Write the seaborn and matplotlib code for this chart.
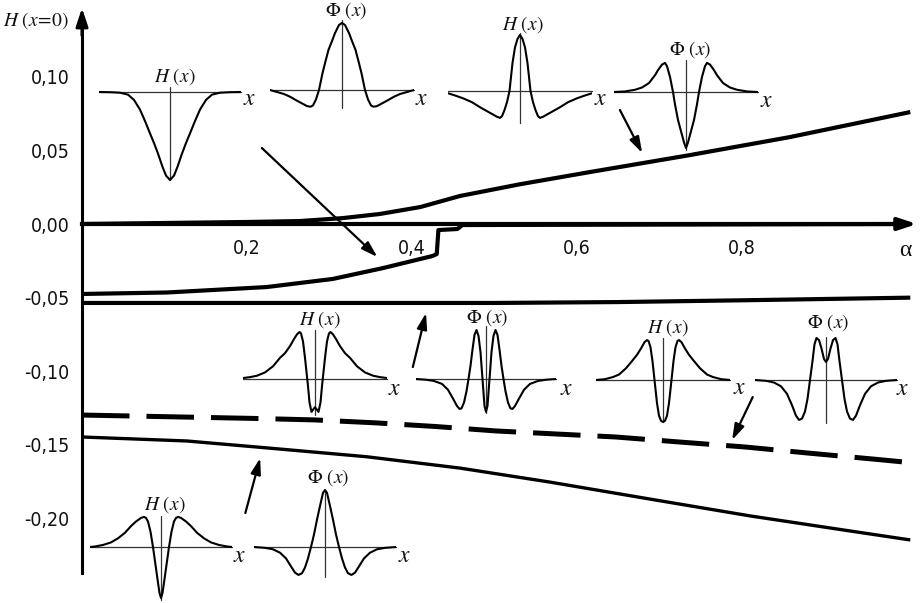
import matplotlib
matplotlib.use("Agg")
import numpy as np
import pandas as pd
import matplotlib.pyplot as plt
import seaborn as sns
from matplotlib.ticker import MultipleLocator, FixedLocator, FuncFormatter

# ---------------- main curves: H(x=0) versus alpha ----------------
alpha_A = [0.0, 0.204, 0.264, 0.316, 0.361, 0.410, 0.458, 0.531, 0.616, 0.737, 0.858, 1.004]
H_A = [0.0, 0.0014, 0.002, 0.004, 0.0068, 0.0115, 0.019, 0.027, 0.0353, 0.0468, 0.059, 0.076]

alpha_B = [0.0, 0.103, 0.224, 0.304, 0.365, 0.425, 0.430, 0.432, 0.455, 0.461, 1.004]
H_B = [-0.0475, -0.0465, -0.0428, -0.0373, -0.0299, -0.0217, -0.0204, -0.0041, -0.0034, -0.0007, 0.0]

alpha_C = [0.0, 0.50, 0.65, 0.80, 1.004]
H_C = [-0.0536, -0.0536, -0.0530, -0.0518, -0.0500]

alpha_D = [0.0, 0.21, 0.282, 0.356, 0.429, 0.502, 0.647, 0.724, 0.804, 0.880, 0.967, 1.004]
H_D = [-0.1297, -0.132, -0.133, -0.135, -0.1375, -0.1405, -0.1446, -0.148, -0.1514, -0.1555, -0.160, -0.162]

alpha_E = [0.0, 0.127, 0.224, 0.345, 0.458, 0.567, 0.688, 0.810, 0.931, 1.004]
H_E = [-0.1446, -0.1473, -0.152, -0.158, -0.1657, -0.1752, -0.1867, -0.1982, -0.2084, -0.2145]

x_ticks = [0.2, 0.4, 0.6, 0.8]
y_ticks = [0.10, 0.05, 0.00, -0.05, -0.10, -0.15, -0.20]

# arrows (start, end) in (alpha, H) coordinates
arrows = [((0.218, 0.0516), (0.358, -0.0224)),
          ((0.652, 0.0774), (0.679, 0.0482)),
          ((0.401, -0.0971), (0.417, -0.0604)),
          ((0.813, -0.1175), (0.788, -0.1467)),
          ((0.198, -0.1962), (0.216, -0.1589))]

# ---------------- inset profiles (half profiles, symmetric in x) ----------------
prof_u = [
    [0, 4, 7.5, 12, 16, 20, 25, 30, 36, 42, 50, 60, 71],
    [0, 3, 7, 10, 13.5, 17, 19.5, 23, 26, 29, 31.5, 35, 40, 45, 52, 58, 65, 72],
    [0, 2.5, 5, 7.5, 10.5, 13, 15.5, 18, 20, 23, 28, 34, 40, 48, 57, 65, 72],
    [0, 2, 5, 8, 11, 13, 16, 19, 21, 24, 28, 31, 37, 44, 51, 61, 72],
    [0, 1.5, 3.5, 5.5, 7, 8.5, 10, 12, 14, 15.5, 18, 21, 25, 30, 35, 42, 50, 58, 65, 72],
    [0, 1.5, 3.5, 5.5, 7.5, 9.5, 11.5, 13.5, 15.5, 17.5, 19.5, 22, 24.5, 26.5, 29, 33, 38, 44, 52, 60, 70],
    [0, 2, 4, 6, 8.5, 10.5, 12.5, 14.5, 16, 18.5, 22, 26, 31, 37, 44, 50, 58, 67],
    [0, 2, 4.5, 7, 9.5, 11.5, 13.5, 16, 18.5, 21, 24, 27, 30, 34, 39, 45, 52, 60, 71],
    [0, 1.5, 3, 5, 8, 10.5, 13, 15, 17, 20, 25, 30, 36, 43, 50, 58, 66, 71],
    [0, 2, 5, 8, 11, 14, 17, 20, 23, 26.5, 30, 34, 39, 45, 52, 60, 71],
]
prof_v = [
    [-1, -0.95, -0.85, -0.70, -0.58, -0.47, -0.33, -0.2, -0.09, -0.03, -0.008, -0.002, 0],
    [1, 0.97, 0.85, 0.73, 0.6, 0.4, 0.25, 0, -0.14, -0.23, -0.25, -0.24, -0.2, -0.16, -0.1, -0.06, -0.03, 0],
    [1, 0.93, 0.78, 0.5, 0, -0.2, -0.34, -0.45, -0.48, -0.46, -0.41, -0.35, -0.29, -0.2, -0.13, -0.08, -0.04],
    [-1, -0.9, -0.7, -0.5, -0.22, 0, 0.27, 0.46, 0.52, 0.49, 0.39, 0.3, 0.16, 0.08, 0.04, 0.01, 0],
    [-0.6, -0.64, -0.7, -0.5, -0.15, 0.15, 0.45, 0.8, 0.97, 1, 0.95, 0.85, 0.7, 0.55, 0.45, 0.27, 0.14, 0.07, 0.04, 0.02],
    [-0.67, -0.55, 0, 0.55, 0.88, 1, 0.9, 0.6, 0.27, 0, -0.25, -0.48, -0.6, -0.61, -0.55, -0.4, -0.22, -0.1, -0.04, -0.015, 0],
    [-1, -0.97, -0.85, -0.55, 0, 0.45, 0.78, 0.93, 0.95, 0.9, 0.75, 0.6, 0.45, 0.28, 0.13, 0.07, 0.02, 0],
    [0.43, 0.5, 0.75, 0.95, 1, 0.85, 0.45, 0, -0.45, -0.75, -0.92, -0.95, -0.85, -0.6, -0.33, -0.15, -0.06, -0.02, 0],
    [-1, -0.9, -0.7, -0.42, 0, 0.3, 0.5, 0.57, 0.59, 0.57, 0.5, 0.41, 0.28, 0.17, 0.09, 0.04, 0.01, 0],
    [1, 0.95, 0.72, 0.48, 0.22, 0, -0.2, -0.36, -0.46, -0.49, -0.45, -0.34, -0.2, -0.1, -0.04, -0.015, 0],
]
prof_names = ["H", "Phi", "H", "Phi", "H", "Phi", "H", "Phi", "H", "Phi"]

# inset layout in pixels: centre x, baseline y, half width, amplitude, vline top, vline bottom
inset_box = [(170, 92, 71, 88, 87, 180), (342, 90, 72, 67, 20, 108),
             (520, 91, 72, 56, 33, 123), (686, 92, 72, 56, 60, 150),
             (315, 379, 72, 47, 330, 415), (486, 379, 70, 49, 326, 413),
             (663, 380, 67, 42, 338, 422), (826, 380, 71, 42, 337, 423),
             (161, 547, 71, 51, 516, 600), (325, 547, 71, 57, 490, 577)]
title_pos = [(175, 77), (346, 11), (523, 25), (690, 50), (320, 320),
             (487, 318), (668, 328), (828, 323), (165, 505), (328, 478)]
xlab_pos = [(250, 98), (422, 98), (601, 98), (767, 100), (395, 388),
            (567, 388), (740, 387), (903, 388), (240, 555), (405, 555)]

# ---------------- figure ----------------
sns.set_theme(style="white")
plt.rcParams["font.family"] = ["DejaVu Sans"]
plt.rcParams["mathtext.fontset"] = "stix"

W, Hpx = 923, 603
fig = plt.figure(figsize=(W / 100, Hpx / 100), dpi=100)
ax = fig.add_axes([0, 0, 1, 1])
ax.set_facecolor("white")
ax.set_xlim((0 - 82) / 825, (W - 82) / 825)
ax.set_ylim((224 - Hpx) / 1473, 224 / 1473)

for k in ["top", "right"]:
    ax.spines[k].set_visible(False)
ax.spines["left"].set_position(("data", 0))
ax.spines["bottom"].set_position(("data", 0))
ax.spines["left"].set_bounds(-0.237, 0.14)
ax.spines["bottom"].set_bounds(0, 1.0)
ax.spines["left"].set_linewidth(2.2)
ax.spines["bottom"].set_linewidth(3.0)
ax.spines["left"].set_color("black")
ax.spines["bottom"].set_color("black")

ax.xaxis.set_major_locator(FixedLocator(x_ticks))
ax.xaxis.set_minor_locator(MultipleLocator(0.05))
ax.yaxis.set_major_locator(FixedLocator(y_ticks))
ax.yaxis.set_minor_locator(MultipleLocator(0.01))
ax.xaxis.set_major_formatter(FuncFormatter(lambda v, p: f"{v:.1f}".replace(".", ",")))
ax.yaxis.set_major_formatter(FuncFormatter(lambda v, p: f"{v:.2f}".replace(".", ",").replace("-0,00", "0,00")))
ax.tick_params(axis="both", which="both", direction="in", color="#888888", width=0.8,
               labelsize=14, labelcolor="#111111")
ax.tick_params(axis="x", which="major", length=4, pad=11)
ax.tick_params(axis="x", which="minor", length=3)
ax.tick_params(axis="y", which="major", length=4, pad=9)
ax.tick_params(axis="y", which="minor", length=3)
for lbl in ax.get_xticklabels() + ax.get_yticklabels():
    lbl.set_fontstretch("condensed")

# axis arrow heads
ax.annotate("", xy=(0, 0.1466), xytext=(0, 0.128),
            arrowprops=dict(arrowstyle="-|>,head_length=0.9,head_width=0.3", color="black",
                            lw=2.2, shrinkA=0, shrinkB=0))
ax.annotate("", xy=(1.012, 0), xytext=(0.99, 0),
            arrowprops=dict(arrowstyle="-|>,head_length=0.9,head_width=0.3", color="black",
                            lw=3.0, shrinkA=0, shrinkB=0))

# curves
def draw(xs, ys, lw, **kw):
    df = pd.DataFrame({"alpha": xs, "H": ys})
    sns.lineplot(data=df, x="alpha", y="H", ax=ax, color="black", lw=lw, sort=False,
                 estimator=None, solid_capstyle="butt", **kw)

draw(alpha_A, H_A, 3.0)
draw(alpha_B, H_B, 3.0)
draw(alpha_C, H_C, 3.0)
draw(alpha_D, H_D, 3.6, linestyle=(0, (9.5, 3.4)))
draw(alpha_E, H_E, 2.4)
ax.set_xlabel("")
ax.set_ylabel("")

for (x0, y0), (x1, y1) in arrows:
    ax.annotate("", xy=(x1, y1), xytext=(x0, y0),
                arrowprops=dict(arrowstyle="-|>,head_length=0.8,head_width=0.25",
                                color="black", lw=1.6, shrinkA=0, shrinkB=0))

# text
def ftxt(x, y, s, **kw):
    fig.text(x / W, 1 - y / Hpx, s, **kw)

ftxt(3, 21, r"$H\ (x\!=\!\mathrm{0})$", ha="left", va="center", fontsize=14, color="#111111")
fig.text(905 / W, 1 - 250 / Hpx, "α", ha="center", va="center", fontsize=17,
         family="Liberation Serif", color="#111111")

# insets
for i in range(len(prof_u)):
    cx, by, hw, A, vt, vb = inset_box[i]
    u = np.array(prof_u[i], dtype=float)
    v = np.array(prof_v[i], dtype=float)
    xs = np.concatenate([-u[::-1], u[1:]])
    ys = np.concatenate([v[::-1], v[1:]])
    iax = ax.inset_axes([(cx - hw) / W, 1 - (by + 1.3 * A) / Hpx, 2 * hw / W, 2.6 * A / Hpx])
    iax.plot([-hw, hw], [0, 0], color="#333333", lw=0.9, clip_on=False)
    iax.plot([0, 0], [(by - vt) / A, (by - vb) / A], color="#333333", lw=0.9, clip_on=False)
    sns.lineplot(x=xs, y=ys, ax=iax, color="black", lw=1.5, sort=False, estimator=None)
    iax.set_xlim(-hw, hw)
    iax.set_ylim(-1.3, 1.3)
    iax.set_xticks([])
    iax.set_yticks([])
    iax.set_xlabel("")
    iax.set_ylabel("")
    iax.axis("off")
    t = r"$H\ (x)$" if prof_names[i] == "H" else r"$\Phi\ (x)$"
    ftxt(*title_pos[i], t, ha="center", va="center", fontsize=14, color="#111111")
    ftxt(*xlab_pos[i], r"$x$", ha="center", va="center", fontsize=17, color="#111111")

fig.savefig("out.png", dpi=100, facecolor="white")
